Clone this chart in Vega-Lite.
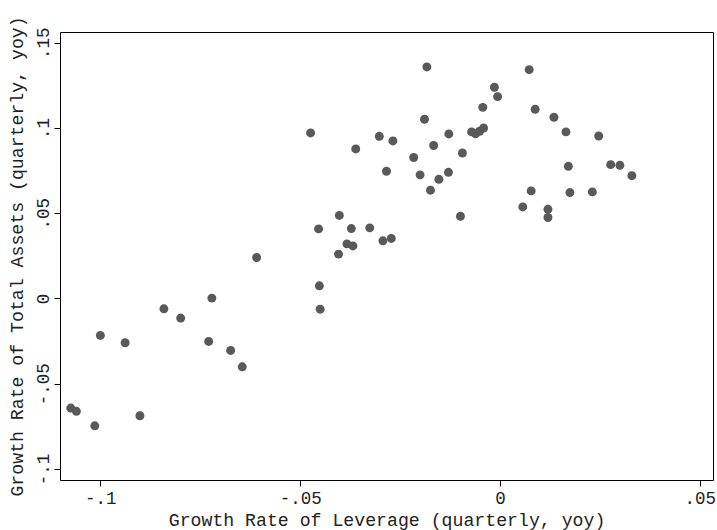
{
  "$schema": "https://vega.github.io/schema/vega-lite/v6.json",
  "width": 653,
  "height": 448,
  "autosize": {"type": "none"},
  "padding": {"left": 60, "top": 32, "right": 4, "bottom": 50},
  "background": "white",
  "config": {
    "view": {"stroke": "#000000", "strokeWidth": 1},
    "font": "Liberation Mono",
    "axis": {
      "labelFont": "Liberation Mono",
      "titleFont": "Liberation Mono",
      "labelFontSize": 17.5,
      "titleFontSize": 18.2,
      "titleFontWeight": "normal",
      "labelColor": "#222222",
      "titleColor": "#222222",
      "tickColor": "#000000",
      "domain": false,
      "grid": false,
      "tickSize": 6,
      "tickWidth": 1
    }
  },
  "data": {
    "values": [
      {"leverage": -0.1, "assets": -0.0217},
      {"leverage": -0.0938, "assets": -0.026},
      {"leverage": -0.0841, "assets": -0.0061},
      {"leverage": -0.0799, "assets": -0.0115},
      {"leverage": -0.0721, "assets": 0.0002},
      {"leverage": -0.0729, "assets": -0.0252},
      {"leverage": -0.0674, "assets": -0.0305},
      {"leverage": -0.0645, "assets": -0.0401},
      {"leverage": -0.1074, "assets": -0.0643},
      {"leverage": -0.106, "assets": -0.0662},
      {"leverage": -0.1014, "assets": -0.0747},
      {"leverage": -0.0901, "assets": -0.0688},
      {"leverage": -0.0609, "assets": 0.024},
      {"leverage": -0.0183, "assets": 0.1358},
      {"leverage": -0.0014, "assets": 0.1239},
      {"leverage": -0.0006, "assets": 0.1184},
      {"leverage": -0.0043, "assets": 0.1121},
      {"leverage": -0.0189, "assets": 0.1051},
      {"leverage": -0.0474, "assets": 0.0971},
      {"leverage": -0.0302, "assets": 0.0951},
      {"leverage": -0.0268, "assets": 0.0924},
      {"leverage": -0.0128, "assets": 0.0965},
      {"leverage": -0.0071, "assets": 0.0977},
      {"leverage": -0.0061, "assets": 0.0966},
      {"leverage": -0.0051, "assets": 0.0981},
      {"leverage": -0.0041, "assets": 0.1},
      {"leverage": -0.0361, "assets": 0.0877},
      {"leverage": -0.0166, "assets": 0.0897},
      {"leverage": -0.0216, "assets": 0.0827},
      {"leverage": -0.0094, "assets": 0.0853},
      {"leverage": -0.0284, "assets": 0.0746},
      {"leverage": -0.02, "assets": 0.0725},
      {"leverage": -0.0153, "assets": 0.0699},
      {"leverage": -0.0129, "assets": 0.074},
      {"leverage": -0.0174, "assets": 0.0635},
      {"leverage": -0.0099, "assets": 0.0482},
      {"leverage": -0.0402, "assets": 0.0487},
      {"leverage": -0.0454, "assets": 0.0408},
      {"leverage": -0.0372, "assets": 0.041},
      {"leverage": -0.0326, "assets": 0.0414},
      {"leverage": -0.0383, "assets": 0.032},
      {"leverage": -0.0368, "assets": 0.0308},
      {"leverage": -0.0404, "assets": 0.026},
      {"leverage": -0.0293, "assets": 0.0338},
      {"leverage": -0.0272, "assets": 0.0352},
      {"leverage": -0.0452, "assets": 0.0074},
      {"leverage": -0.045, "assets": -0.0063},
      {"leverage": 0.0073, "assets": 0.1342},
      {"leverage": 0.0088, "assets": 0.111},
      {"leverage": 0.0135, "assets": 0.1063},
      {"leverage": 0.0165, "assets": 0.0977},
      {"leverage": 0.0247, "assets": 0.0953},
      {"leverage": 0.0171, "assets": 0.0775},
      {"leverage": 0.0277, "assets": 0.0785},
      {"leverage": 0.03, "assets": 0.0781},
      {"leverage": 0.033, "assets": 0.072},
      {"leverage": 0.0078, "assets": 0.0631},
      {"leverage": 0.0175, "assets": 0.0621},
      {"leverage": 0.0231, "assets": 0.0625},
      {"leverage": 0.0057, "assets": 0.0537},
      {"leverage": 0.012, "assets": 0.0523},
      {"leverage": 0.012, "assets": 0.0475}
    ]
  },
  "mark": {"type": "point", "filled": true, "shape": "circle", "size": 80, "color": "#595959", "opacity": 1},
  "encoding": {
    "x": {
      "field": "leverage",
      "type": "quantitative",
      "scale": {"domain": [-0.1101, 0.0533], "nice": false, "zero": false},
      "axis": {
        "title": "Growth Rate of Leverage (quarterly, yoy)",
        "values": [-0.1, -0.05, 0, 0.05],
        "labelExpr": "replace(datum.value + '', '0.', '.')",
        "labelPadding": 3,
        "titlePadding": 5,
        "labelFlush": false
      }
    },
    "y": {
      "field": "assets",
      "type": "quantitative",
      "scale": {"domain": [-0.1065, 0.1563], "nice": false, "zero": false},
      "axis": {
        "title": "Growth Rate of Total Assets (quarterly, yoy)",
        "values": [-0.1, -0.05, 0, 0.05, 0.1, 0.15],
        "labelExpr": "replace(datum.value + '', '0.', '.')",
        "labelAngle": -90,
        "labelAlign": "center",
        "labelBaseline": "bottom",
        "labelPadding": 2,
        "titlePadding": 8,
        "labelFlush": false
      }
    }
  }
}
